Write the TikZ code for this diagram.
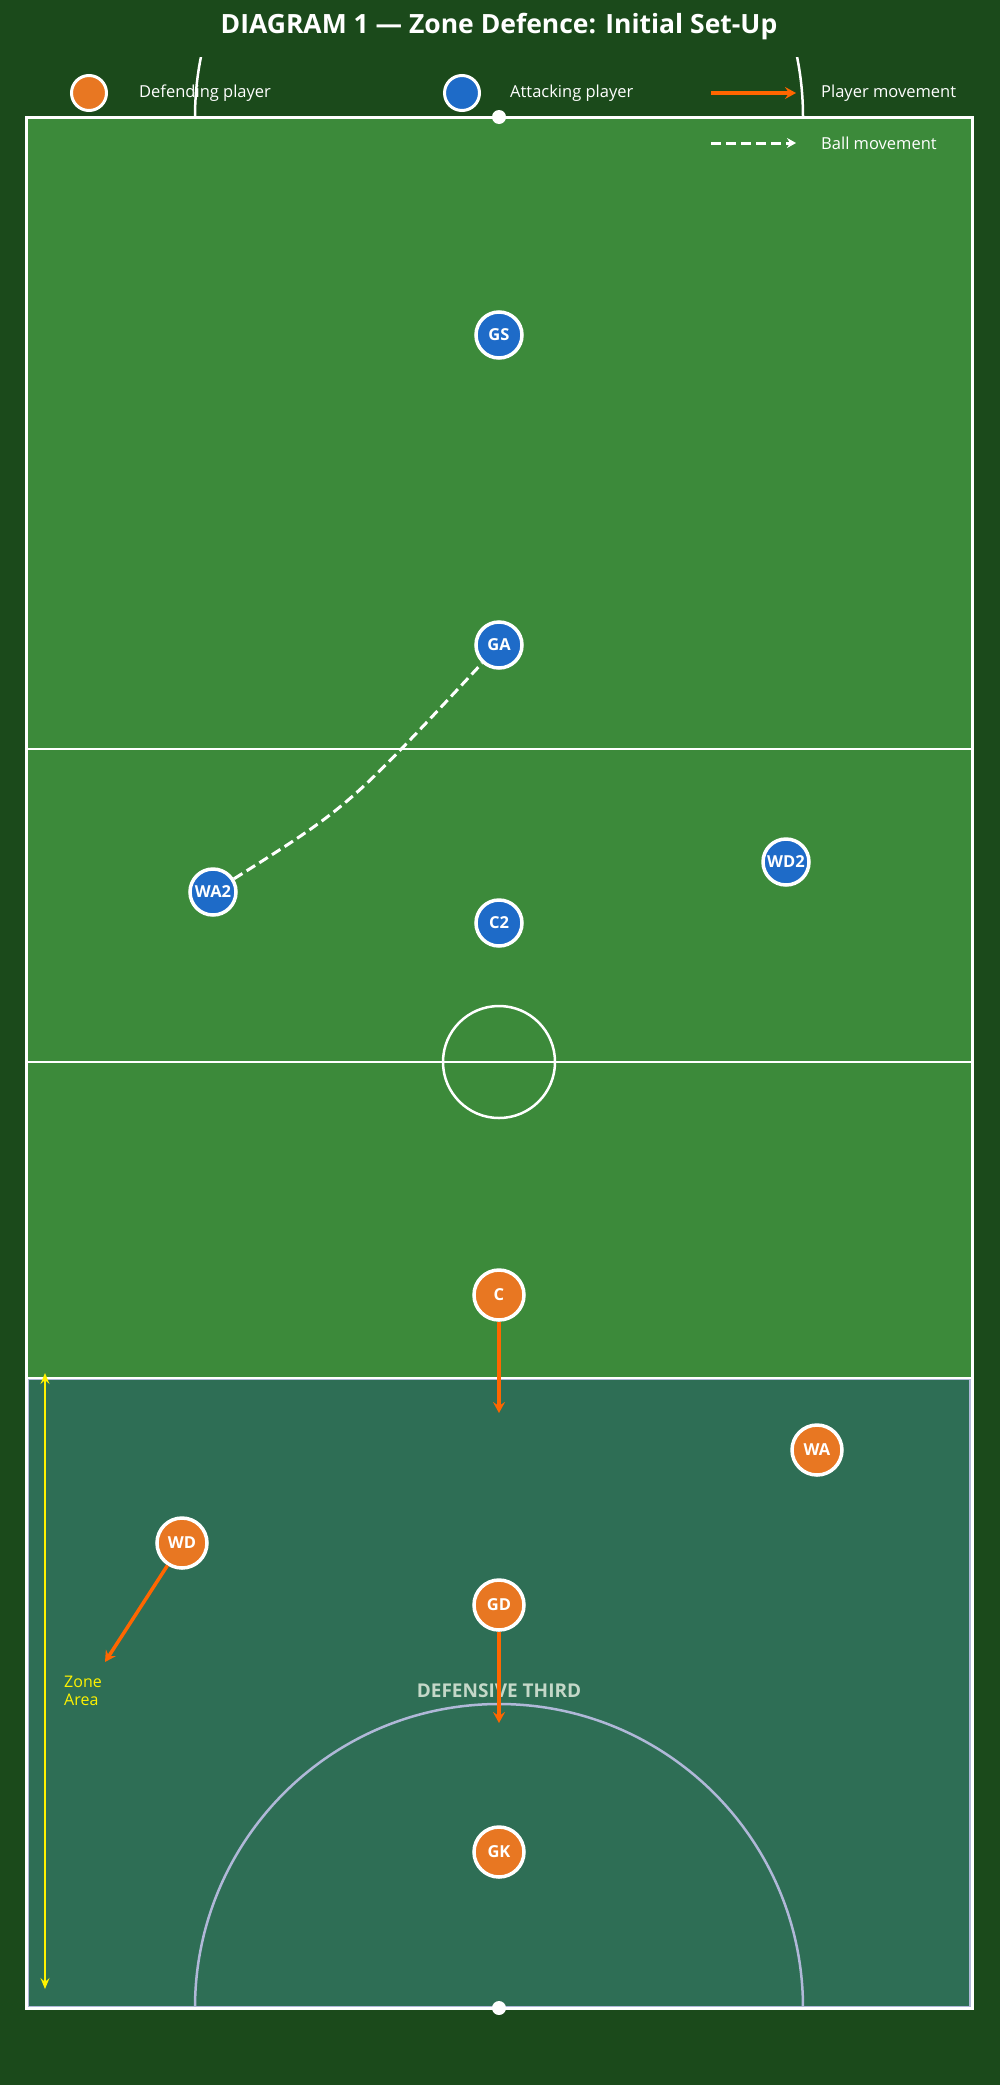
\documentclass[tikz,border=0pt]{standalone}
\usepackage{fontspec}
\setmainfont{Open Sans}
\usetikzlibrary{arrows.meta}
\definecolor{bggreen}{HTML}{1B4A1B}
\definecolor{courtgreen}{HTML}{3C8A3A}
\definecolor{zonegreen}{HTML}{2E6E55}
\definecolor{attblue}{HTML}{1E6BC8}
\definecolor{deforange}{HTML}{E87722}
\definecolor{movorange}{HTML}{FF6600}
\definecolor{arclav}{HTML}{B0B8D8}
\definecolor{thirdtext}{HTML}{C4D8C8}
\tikzstyle{defender} = [circle, minimum size=50pt, inner sep=0pt, draw=white, line width=3.5pt, fill=deforange, text=white, font=\bfseries\fontsize{16.5}{16.5}\selectfont]
\tikzstyle{attacker} = [circle, minimum size=46pt, inner sep=0pt, draw=white, line width=3.5pt, fill=attblue, text=white, font=\bfseries\fontsize{16.5}{16.5}\selectfont]
\tikzstyle{legendtext} = [anchor=west, inner sep=0pt, text=white, font=\fontsize{16.5}{16.5}\selectfont]
\tikzstyle{courtline} = [draw=white, line width=2.5pt]
\tikzstyle{pmove} = [line width=3.5pt, -{Stealth[length=11pt, width=12pt, inset=4pt]}, draw=movorange]
\tikzstyle{bmove} = [line width=3pt, dash pattern=on 10pt off 5pt, draw=white]
\tikzstyle{zonearrow} = [line width=2.5pt, {Stealth[length=11pt, width=9pt, inset=4pt]}-{Stealth[length=11pt, width=9pt, inset=4pt]}, draw=yellow]

\begin{document}
\begin{tikzpicture}[x=1pt, y=-1pt]
    \useasboundingbox (0,0) rectangle (1000,2085);
    \fill[bggreen] (0,0) rectangle (1000,2085);

    % Court
    \fill[courtgreen] (26,117) rectangle (972,2008);
    \fill[zonegreen] (26,1378) rectangle (972,2008);
    \draw[arclav, line width=2pt] (28,1379) rectangle (970,2006.5);
    \draw[courtline] (26,749) -- (972,749);
    \draw[courtline] (26,1062) -- (972,1062);
    \draw[courtline] (26,1378) -- (972,1378);
    \draw[courtline] (499,1062) circle (56);
    \begin{scope}
        \clip (0,57) rectangle (1000,117);
        \draw[courtline] (499,117) circle (304);
    \end{scope}
    \begin{scope}
        \clip (0,1600) rectangle (1000,2007);
        \draw[arclav, line width=2.5pt] (499,2008) circle (304);
    \end{scope}
    \draw[courtline, line width=3pt] (26,117) rectangle (972,2008);
    \fill[white] (499,117) circle (7);
    \fill[white] (499,2008) circle (7);

    \node (title) at (499,27) [text=white, font=\bfseries\fontsize{26.5}{26.5}\selectfont] {DIAGRAM 1 — Zone Defence: Initial Set-Up};

    % Legend
    \node (legdef) at (89,93) [defender, minimum size=35pt, line width=3pt] {};
    \node (legdeftext) at (139,93) [legendtext] {Defending player};
    \node (legatt) at (462,93) [attacker, minimum size=35pt, line width=3pt] {};
    \node (legatttext) at (510,93) [legendtext] {Attacking player};
    \coordinate (legpmstart) at (711,93);
    \coordinate (legpmend) at (796,93);
    \draw [pmove] (legpmstart) -- (legpmend);
    \node (legpmtext) at (821,93) [legendtext] {Player movement};
    \coordinate (legbmstart) at (711,143);
    \coordinate (legbmend) at (796,143);
    \draw [bmove, -{Stealth[length=9pt, width=10pt, inset=3pt]}] (legbmstart) -- (legbmend);
    \node (legbmtext) at (821,143) [legendtext] {Ball movement};

    \node (thirdlabel) at (499,1691) [text=thirdtext, font=\bfseries\fontsize{19}{19}\selectfont] {DEFENSIVE THIRD};

    % Attack
    \node (gs) at (499,335) [attacker] {GS};
    \node (ga) at (499,645) [attacker] {GA};
    \node (wa2) at (213,892) [attacker] {WA2};
    \node (wd2) at (786,862) [attacker] {WD2};
    \node (c2) at (499,923) [attacker] {C2};

    % Defence
    \node (c) at (499,1295) [defender] {C};
    \node (wa) at (817,1450) [defender] {WA};
    \node (wd) at (182,1543) [defender] {WD};
    \node (gd) at (499,1605) [defender] {GD};
    \node (gk) at (499,1852) [defender] {GK};

    % Movement
    \coordinate (ctip) at (499,1413);
    \coordinate (gdtip) at (499,1723);
    \coordinate (wdtip) at (105,1662);
    \draw [pmove] (c) -- (ctip);
    \draw [pmove] (gd) -- (gdtip);
    \draw [pmove] (wd) -- (wdtip);
    \draw [bmove] (wa2) .. controls (348,807) .. (ga);

    % Zone area
    \coordinate (zonetop) at (45,1373);
    \coordinate (zonebottom) at (45,1989);
    \draw [zonearrow] (zonetop) -- (zonebottom);
    \node (zonelabel) at (64,1691) [anchor=west, inner sep=0pt, align=left, text=yellow, font=\fontsize{16}{18}\selectfont] {Zone\\Area};
\end{tikzpicture}
\end{document}
